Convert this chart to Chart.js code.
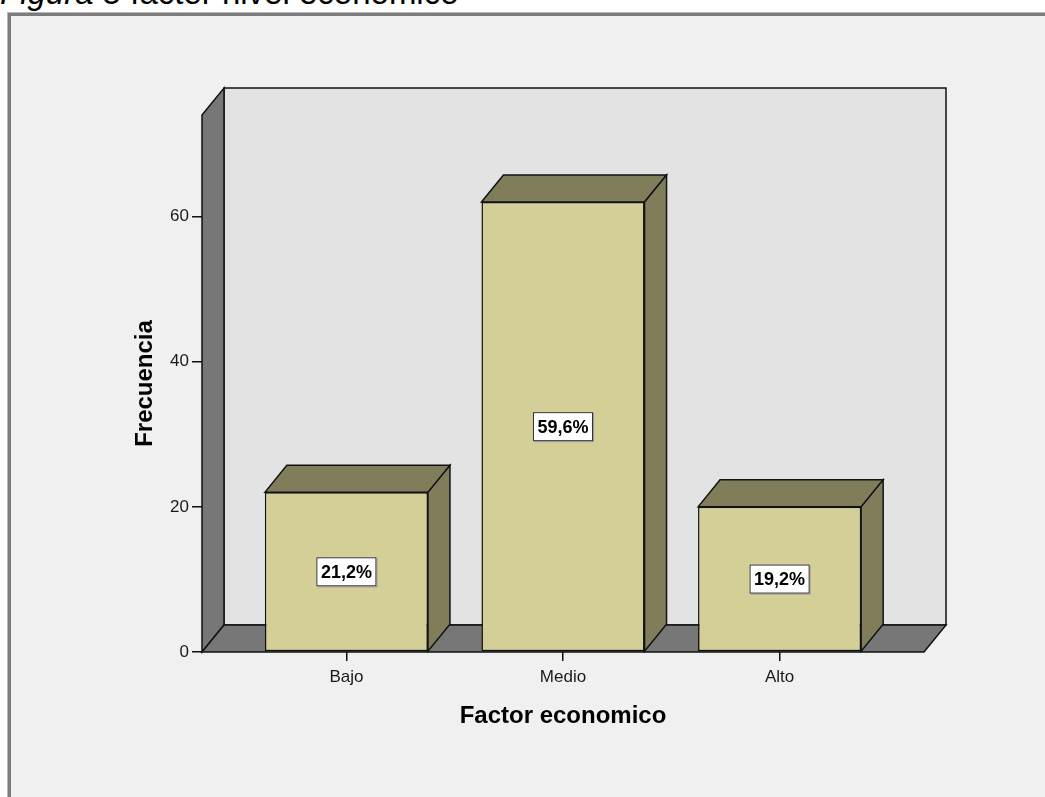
<!DOCTYPE html>
<html lang="es">
<head>
<meta charset="utf-8">
<title>Factor nivel economico</title>
<script src="https://cdn.jsdelivr.net/npm/chart.js@4.4.1/dist/chart.umd.min.js"></script>
<style>
  html, body { margin: 0; padding: 0; background: #ffffff; overflow: hidden; }
  body { width: 1045px; height: 797px; position: relative; font-family: "Liberation Sans", Arial, sans-serif; }
  #caption {
    position: absolute; left: 0; top: -24px; white-space: nowrap;
    font-size: 33px; line-height: 33px; color: #000;
  }
  #caption i { font-style: italic; }
  #frame {
    position: absolute; left: 8px; top: 13px; width: 1100px; height: 860px;
    background: #f0f0f0; border-left: 3px solid #7c7c7c; border-top: 3px solid #7c7c7c;
    box-shadow: -1px -1px 0 #b8b8b8;
  }
  #chart { position: absolute; left: 0; top: 0; }
</style>
</head>
<body>
<div id="caption"><i>Figura 3</i> factor nivel economico</div>
<div id="frame"></div>
<canvas id="chart" width="1045" height="797"></canvas>
<script>
// Frecuencias por nivel del factor económico
const categories = ['Bajo', 'Medio', 'Alto'];
const counts = [22, 62, 20];
const yTicks = [0, 20, 40, 60];

const total = counts.reduce((a, b) => a + b, 0);
const percentLabels = counts.map(v => (v / total * 100).toFixed(1).replace('.', ',') + '%');

const DEPTH_X = 22;
const DEPTH_Y = 27;
const FRONT = '#d3cf97';
const SHADE = '#807e5a';
const WALL = '#e3e3e3';
const SIDE = '#777777';
const EDGE = '#111111';

function poly(ctx, pts, fill) {
  ctx.beginPath();
  ctx.moveTo(pts[0][0], pts[0][1]);
  for (let i = 1; i < pts.length; i++) ctx.lineTo(pts[i][0], pts[i][1]);
  ctx.closePath();
  ctx.fillStyle = fill;
  ctx.fill();
  ctx.stroke();
}

// Back wall, side wall and floor of the 3D box, plus bar depth faces and labels
const boxPlugin = {
  id: 'box3d',
  beforeDatasetsDraw(chart) {
    const { ctx, chartArea: a } = chart;
    ctx.save();
    ctx.lineWidth = 1.5;
    ctx.strokeStyle = EDGE;
    ctx.lineJoin = 'miter';
    poly(ctx, [[a.left + DEPTH_X, a.top - DEPTH_Y], [a.right + DEPTH_X, a.top - DEPTH_Y],
               [a.right + DEPTH_X, a.bottom - DEPTH_Y], [a.left + DEPTH_X, a.bottom - DEPTH_Y]], WALL);
    poly(ctx, [[a.left, a.top], [a.left + DEPTH_X, a.top - DEPTH_Y],
               [a.left + DEPTH_X, a.bottom - DEPTH_Y], [a.left, a.bottom]], SIDE);
    poly(ctx, [[a.left, a.bottom], [a.left + DEPTH_X, a.bottom - DEPTH_Y],
               [a.right + DEPTH_X, a.bottom - DEPTH_Y], [a.right, a.bottom]], SIDE);
    ctx.restore();
  },
  afterDatasetsDraw(chart) {
    const { ctx } = chart;
    const meta = chart.getDatasetMeta(0);
    ctx.save();
    meta.data.forEach((bar, i) => {
      const half = bar.width / 2;
      const l = bar.x - half, r = bar.x + half, t = bar.y, b = bar.base;
      ctx.lineWidth = 1.5;
      ctx.strokeStyle = EDGE;
      // top face
      poly(ctx, [[l, t], [l + DEPTH_X, t - DEPTH_Y], [r + DEPTH_X, t - DEPTH_Y], [r, t]], SHADE);
      // right face
      poly(ctx, [[r, t], [r + DEPTH_X, t - DEPTH_Y], [r + DEPTH_X, b - DEPTH_Y], [r, b]], SHADE);

      // percentage label box in the middle of the front face
      const text = percentLabels[i];
      ctx.font = 'bold 18px "Liberation Sans", Arial, sans-serif';
      const w = ctx.measureText(text).width + 9;
      const h = 29;
      const cx = bar.x, cy = (t + b) / 2;
      ctx.fillStyle = '#9a9a9a';
      ctx.fillRect(cx - w / 2 + 1, cy - h / 2 + 1, w, h);
      ctx.fillStyle = '#ffffff';
      ctx.fillRect(cx - w / 2, cy - h / 2, w, h);
      ctx.lineWidth = 1;
      ctx.strokeStyle = '#333333';
      ctx.strokeRect(cx - w / 2 + 0.5, cy - h / 2 + 0.5, w - 1, h - 1);
      ctx.fillStyle = '#000000';
      ctx.textAlign = 'center';
      ctx.textBaseline = 'middle';
      ctx.fillText(text, cx, cy + 1);
    });
    ctx.restore();
  }
};

new Chart(document.getElementById('chart'), {
  type: 'bar',
  data: {
    datasets: [{
      label: 'Frecuencia',
      data: categories.map((c, i) => ({ x: i, y: counts[i] })),
      backgroundColor: FRONT,
      borderColor: EDGE,
      borderWidth: 1.5,
      borderSkipped: false,
      barPercentage: 0.753,
      categoryPercentage: 1
    }]
  },
  options: {
    responsive: false,
    animation: false,
    devicePixelRatio: 1,
    layout: { padding: { top: 115, right: 121, left: 0, bottom: 0 } },
    plugins: { legend: { display: false }, tooltip: { enabled: false } },
    scales: {
      x: {
        type: 'linear',
        offset: false,
        min: -2 / 3,
        max: 8 / 3,
        afterBuildTicks: s => { s.ticks = categories.map((c, i) => ({ value: i })); },
        afterFit: s => { s.height = 145; },
        ticks: {
          autoSkip: false,
          maxRotation: 0,
          padding: 6,
          color: '#1a1a1a',
          font: { family: '"Liberation Sans", Arial, sans-serif', size: 17 },
          callback: v => categories[v]
        },
        grid: { offset: false, drawOnChartArea: false, drawTicks: true, tickLength: 9, color: '#111', lineWidth: 1.5 },
        border: { display: false },
        title: {
          display: true,
          text: 'Factor economico',
          color: '#000',
          font: { family: '"Liberation Sans", Arial, sans-serif', size: 24, weight: 'bold' },
          padding: { top: 0, bottom: 66 }
        }
      },
      y: {
        min: 0,
        max: 74,
        afterBuildTicks: s => { s.ticks = yTicks.map(v => ({ value: v })); },
        afterFit: s => { s.width = 202; },
        ticks: {
          padding: 3,
          color: '#1a1a1a',
          font: { family: '"Liberation Sans", Arial, sans-serif', size: 17 }
        },
        grid: { drawOnChartArea: false, drawTicks: true, tickLength: 10, color: '#111', lineWidth: 1.5 },
        border: { display: false },
        title: {
          display: true,
          text: 'Frecuencia',
          color: '#000',
          font: { family: '"Liberation Sans", Arial, sans-serif', size: 24, weight: 'bold' },
          padding: { top: 131, bottom: 0 }
        }
      }
    }
  },
  plugins: [boxPlugin]
});
</script>
</body>
</html>
